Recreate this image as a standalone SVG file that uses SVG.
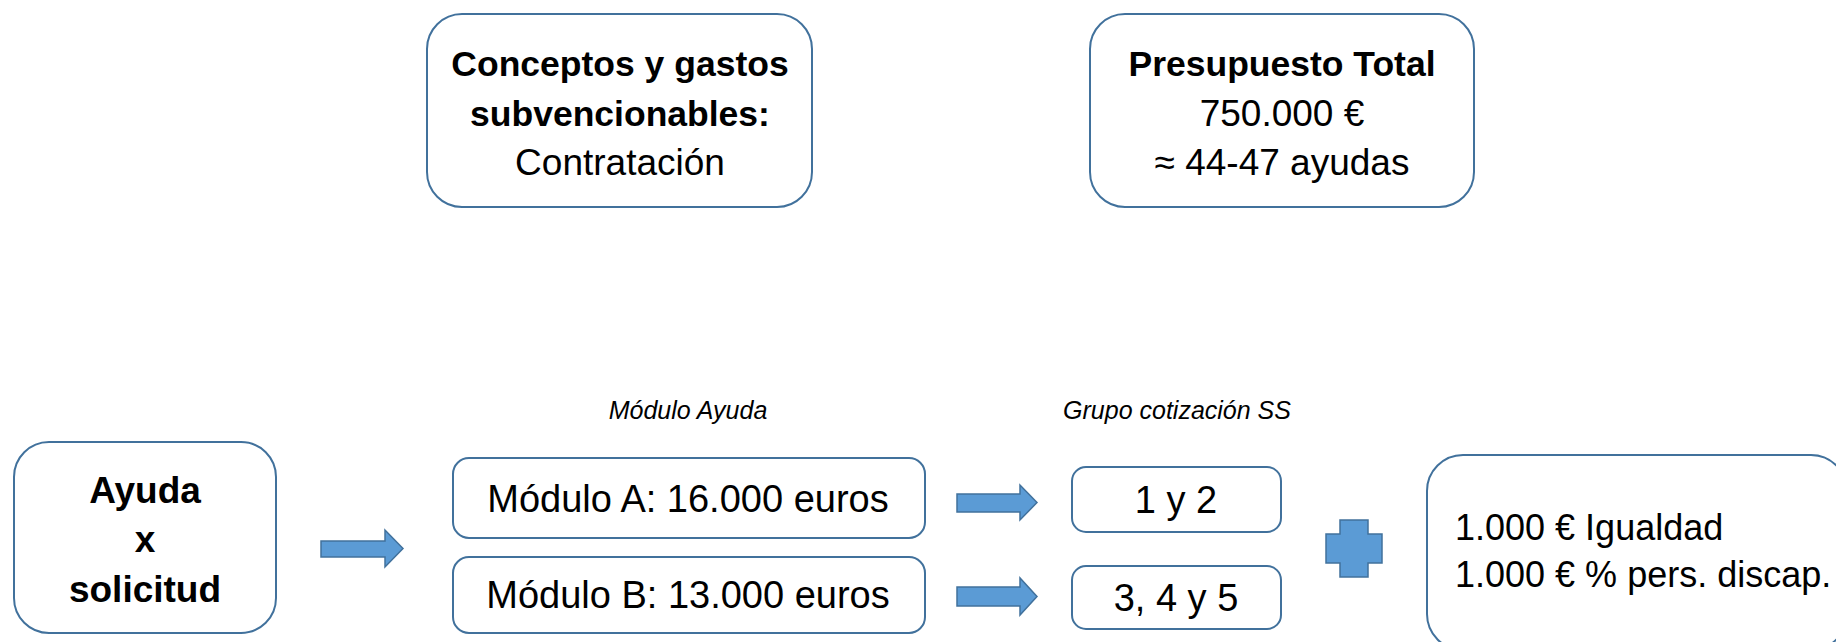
<svg xmlns="http://www.w3.org/2000/svg" width="1836" height="642" viewBox="0 0 1836 642">
<style>
.box{fill:#ffffff;stroke:#41719C;stroke-width:2}
.arr{fill:#5B9BD5;stroke:#41719C;stroke-width:1.5}
text{font-family:"Liberation Sans",Arial,sans-serif;fill:#000000;text-anchor:middle}
.b{font-weight:bold}
.top{font-size:37px}
.topb{font-size:35.5px;font-weight:bold}
.mid{font-size:38px}
.side{font-size:36px;text-anchor:start}
.lab{font-size:25px;font-style:italic}
</style>
<rect width="1836" height="642" fill="#ffffff"/>
<g id="conceptos">
<rect class="box" x="427" y="14" width="385" height="193" rx="35" ry="35"/>
<text class="topb" x="620" y="76">Conceptos y gastos</text>
<text class="topb" x="620" y="126">subvencionables:</text>
<text class="top" x="620" y="175">Contratación</text>
</g>
<g id="presupuesto">
<rect class="box" x="1090" y="14" width="384" height="193" rx="35" ry="35"/>
<text class="topb" x="1282" y="76">Presupuesto Total</text>
<text class="top" x="1282" y="126">750.000 €</text>
<text class="top" x="1282" y="175">≈ 44-47 ayudas</text>
</g>
<g id="label-modulo">
<text class="lab" x="688" y="419">Módulo Ayuda</text>
</g>
<g id="label-grupo">
<text class="lab" x="1177" y="419">Grupo cotización SS</text>
</g>
<g id="ayuda">
<rect class="box" x="14" y="442" width="262" height="191" rx="35" ry="35"/>
<text class="topb" x="145" y="503" style="font-size:37px">Ayuda</text>
<text class="topb" x="145" y="552" style="font-size:37px">x</text>
<text class="topb" x="145" y="602" style="font-size:37px">solicitud</text>
</g>
<g id="modulo-a">
<rect class="box" x="453" y="458" width="472" height="80" rx="16" ry="16"/>
<text class="mid" x="688" y="512">Módulo A: 16.000 euros</text>
</g>
<g id="modulo-b">
<rect class="box" x="453" y="557" width="472" height="76" rx="16" ry="16"/>
<text class="mid" x="688" y="608">Módulo B: 13.000 euros</text>
</g>
<g id="grupo-12">
<rect class="box" x="1072" y="467" width="209" height="65" rx="14" ry="14"/>
<text class="mid" x="1176" y="513">1 y 2</text>
</g>
<g id="grupo-345">
<rect class="box" x="1072" y="566" width="209" height="63" rx="14" ry="14"/>
<text class="mid" x="1176" y="611">3, 4 y 5</text>
</g>
<g id="plus">
<path class="arr" d="M1340,520 H1368 V534 H1382 V563 H1368 V577 H1340 V563 H1326 V534 H1340 Z"/>
</g>
<g id="extras">
<rect class="box" x="1427" y="455" width="420" height="195" rx="36" ry="36"/>
<text class="side" x="1455" y="540">1.000 € Igualdad</text>
<text class="side" x="1455" y="587">1.000 € % pers. discap.</text>
</g>
<g id="connectors">
<path class="arr" d="M321,541 H385 V530 L403,548.5 L385,567 V557 H321 Z"/>
<path class="arr" d="M957,494 H1020 V485 L1037,502.5 L1020,520 V512 H957 Z"/>
<path class="arr" d="M957,587 H1020 V578 L1037,596.5 L1020,615 V606 H957 Z"/>
</g>
</svg>
